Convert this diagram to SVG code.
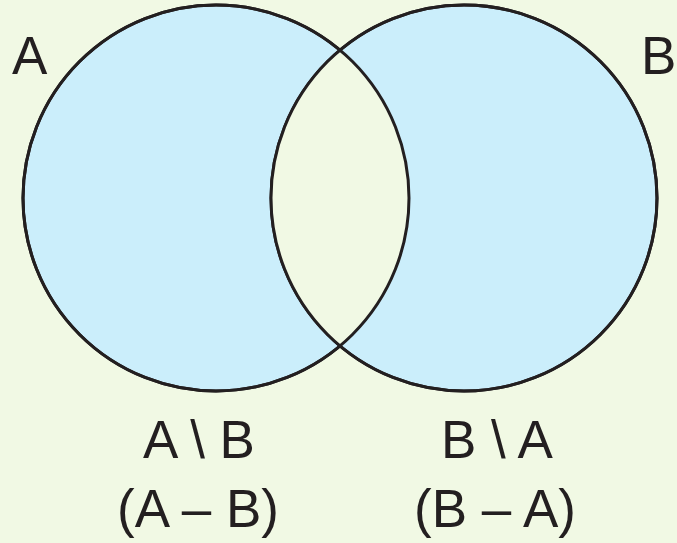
<svg xmlns="http://www.w3.org/2000/svg" width="677" height="543" viewBox="0 0 677 543">
<style>
.set{fill:#cbeefb;stroke:#231f20;stroke-width:3}
.lens{fill:#f1f9e4;stroke:none}
.edge{fill:none;stroke:#231f20;stroke-width:3}
.lbl{font-size:53px;fill:#231f20}
</style>
<defs>
<clipPath id="clipA"><circle cx="216" cy="198" r="193"/></clipPath>
</defs>
<rect width="677" height="543" fill="#f1f9e4"/>
<g id="setA"><circle class="set" cx="216" cy="198" r="193"/></g>
<g id="setB"><circle class="set" cx="464" cy="198" r="193"/></g>
<g id="intersection">
<circle class="lens" cx="464" cy="198" r="193" clip-path="url(#clipA)"/>
<circle class="edge" cx="216" cy="198" r="193"/>
<circle class="edge" cx="464" cy="198" r="193"/>
</g>
<g id="labels" font-family="Liberation Sans, Arial, Helvetica, sans-serif">
<text class="lbl" x="12" y="74">A</text>
<text class="lbl" x="641" y="74">B</text>
<text class="lbl" x="199" y="458" text-anchor="middle">A \ B</text>
<text class="lbl" x="198" y="527" text-anchor="middle">(A – B)</text>
<text class="lbl" x="497" y="458" text-anchor="middle">B \ A</text>
<text class="lbl" x="495" y="527" text-anchor="middle">(B – A)</text>
</g>
</svg>
